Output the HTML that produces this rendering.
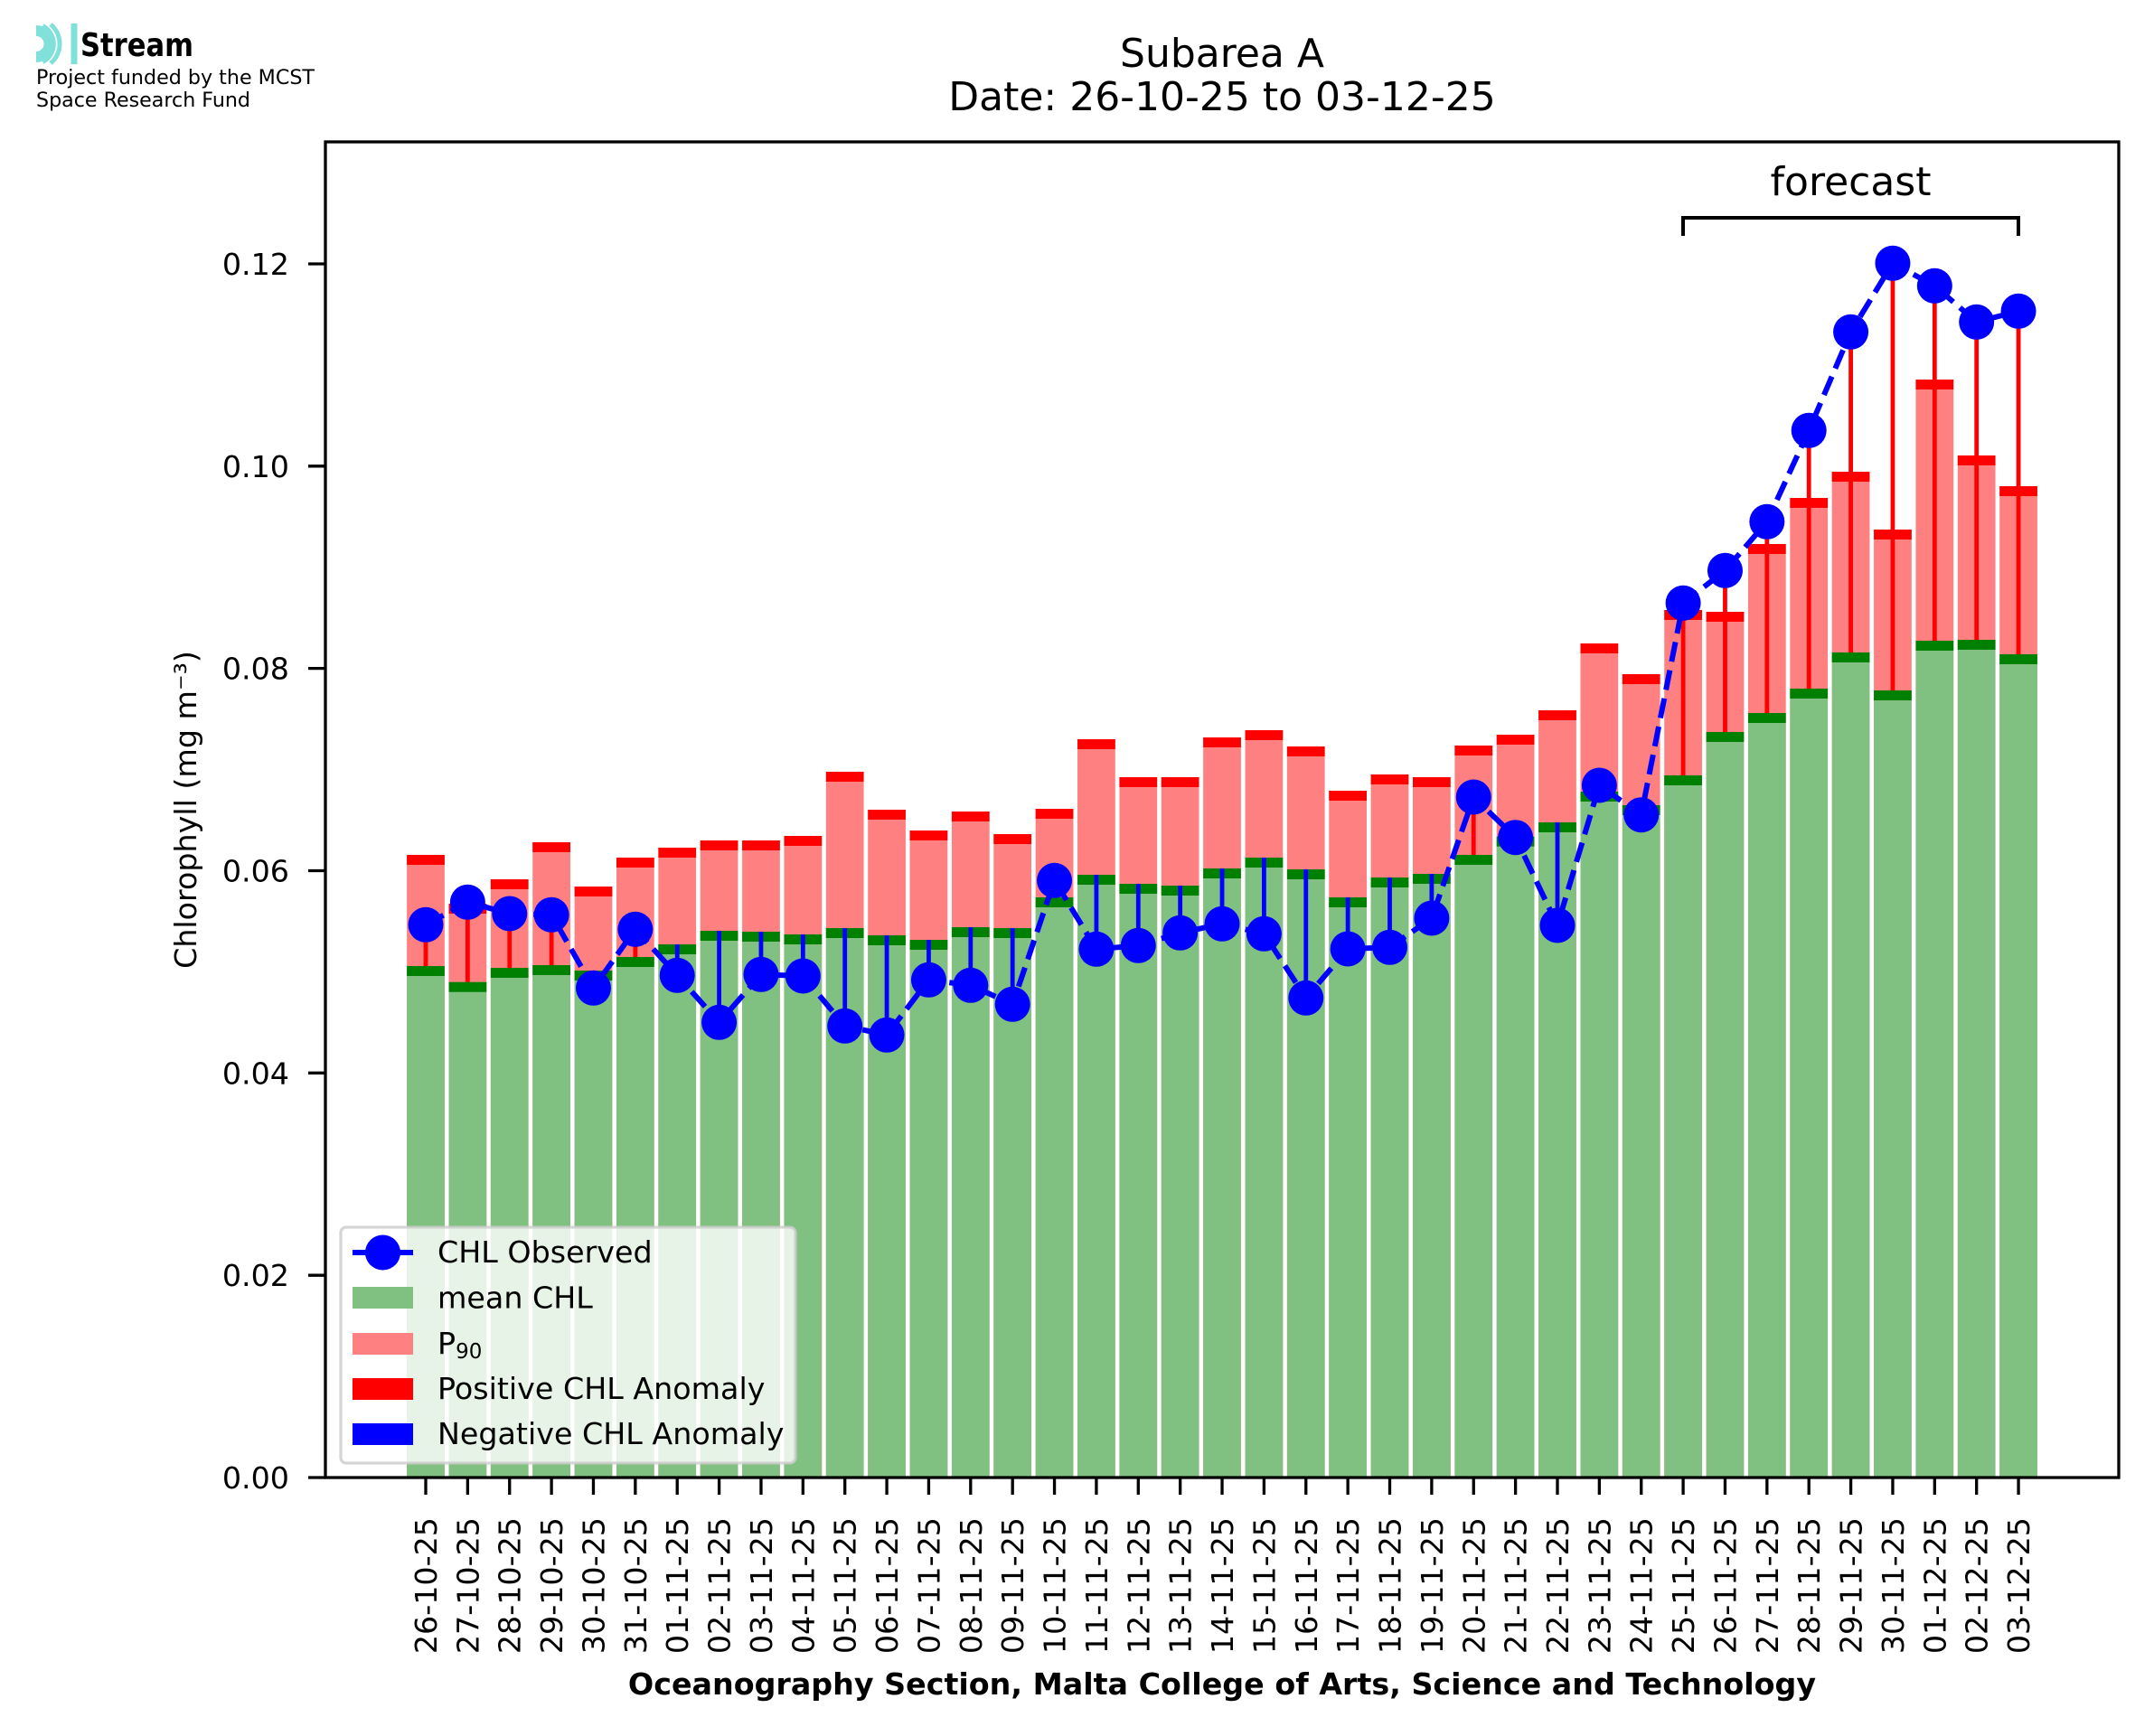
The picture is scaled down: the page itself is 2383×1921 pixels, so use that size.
<!DOCTYPE html>
<html><head><meta charset="utf-8"><style>
html,body{margin:0;padding:0;background:#fff;width:2383px;height:1921px;overflow:hidden;}
svg{display:block;overflow:hidden;font-family:"DejaVu Sans","Liberation Sans",sans-serif;}
</style></head><body>
<svg width="2383" height="1921" viewBox="0 0 2383 1921" xmlns="http://www.w3.org/2000/svg">
<rect width="2383" height="1921" fill="#fff"/>

<!-- logo -->
<g fill="none" stroke="#80e0da">
<path d="M40,34 A14.5,14.5 0 0 1 40,63" stroke-width="12"/>
<path d="M47,29 A22,22 0 0 1 47,68" stroke-width="6"/>
<path d="M56,27 A28,28 0 0 1 56,70" stroke-width="5"/>
<path d="M82,26 V71" stroke-width="7"/>
</g>
<path d="M40,44 L48,48.5 L40,53 Z" fill="#fff"/>
<text x="89" y="62" font-size="36" font-weight="bold" textLength="125" lengthAdjust="spacingAndGlyphs">Stream</text>
<text x="40" y="93" font-size="22" textLength="308" lengthAdjust="spacingAndGlyphs">Project funded by the MCST</text>
<text x="40" y="118" font-size="22" textLength="237" lengthAdjust="spacingAndGlyphs">Space Research Fund</text>

<!-- title -->
<text x="1352" y="74" font-size="44" text-anchor="middle">Subarea A</text>
<text x="1352" y="122" font-size="44" text-anchor="middle">Date: 26-10-25 to 03-12-25</text>

<!-- bars -->
<g>
<g transform="translate(471)"><rect x="-20.87" width="41.73" y="946" height="689" fill="#ff8080"/><rect x="-20.87" width="41.73" y="1069" height="566" fill="#80c080"/><rect x="-20.87" width="41.73" y="1069" height="11" fill="#008000"/><rect x="-20.87" width="41.73" y="946" height="11" fill="#ff0000"/></g>
<g transform="translate(517.37)"><rect x="-20.87" width="41.73" y="1000" height="635" fill="#ff8080"/><rect x="-20.87" width="41.73" y="1086.7" height="548.3" fill="#80c080"/><rect x="-20.87" width="41.73" y="1086.7" height="11" fill="#008000"/><rect x="-20.87" width="41.73" y="1000" height="11" fill="#ff0000"/></g>
<g transform="translate(563.74)"><rect x="-20.87" width="41.73" y="973" height="662" fill="#ff8080"/><rect x="-20.87" width="41.73" y="1071" height="564" fill="#80c080"/><rect x="-20.87" width="41.73" y="1071" height="11" fill="#008000"/><rect x="-20.87" width="41.73" y="973" height="11" fill="#ff0000"/></g>
<g transform="translate(610.11)"><rect x="-20.87" width="41.73" y="932" height="703" fill="#ff8080"/><rect x="-20.87" width="41.73" y="1068" height="567" fill="#80c080"/><rect x="-20.87" width="41.73" y="1068" height="11" fill="#008000"/><rect x="-20.87" width="41.73" y="932" height="11" fill="#ff0000"/></g>
<g transform="translate(656.48)"><rect x="-20.87" width="41.73" y="981" height="654" fill="#ff8080"/><rect x="-20.87" width="41.73" y="1074" height="561" fill="#80c080"/><rect x="-20.87" width="41.73" y="1074" height="11" fill="#008000"/><rect x="-20.87" width="41.73" y="981" height="11" fill="#ff0000"/></g>
<g transform="translate(702.85)"><rect x="-20.87" width="41.73" y="949" height="686" fill="#ff8080"/><rect x="-20.87" width="41.73" y="1059" height="576" fill="#80c080"/><rect x="-20.87" width="41.73" y="1059" height="11" fill="#008000"/><rect x="-20.87" width="41.73" y="949" height="11" fill="#ff0000"/></g>
<g transform="translate(749.22)"><rect x="-20.87" width="41.73" y="938" height="697" fill="#ff8080"/><rect x="-20.87" width="41.73" y="1045" height="590" fill="#80c080"/><rect x="-20.87" width="41.73" y="1045" height="11" fill="#008000"/><rect x="-20.87" width="41.73" y="938" height="11" fill="#ff0000"/></g>
<g transform="translate(795.59)"><rect x="-20.87" width="41.73" y="930" height="705" fill="#ff8080"/><rect x="-20.87" width="41.73" y="1030" height="605" fill="#80c080"/><rect x="-20.87" width="41.73" y="1030" height="11" fill="#008000"/><rect x="-20.87" width="41.73" y="930" height="11" fill="#ff0000"/></g>
<g transform="translate(841.96)"><rect x="-20.87" width="41.73" y="930" height="705" fill="#ff8080"/><rect x="-20.87" width="41.73" y="1031" height="604" fill="#80c080"/><rect x="-20.87" width="41.73" y="1031" height="11" fill="#008000"/><rect x="-20.87" width="41.73" y="930" height="11" fill="#ff0000"/></g>
<g transform="translate(888.33)"><rect x="-20.87" width="41.73" y="925" height="710" fill="#ff8080"/><rect x="-20.87" width="41.73" y="1034" height="601" fill="#80c080"/><rect x="-20.87" width="41.73" y="1034" height="11" fill="#008000"/><rect x="-20.87" width="41.73" y="925" height="11" fill="#ff0000"/></g>
<g transform="translate(934.7)"><rect x="-20.87" width="41.73" y="854" height="781" fill="#ff8080"/><rect x="-20.87" width="41.73" y="1027" height="608" fill="#80c080"/><rect x="-20.87" width="41.73" y="1027" height="11" fill="#008000"/><rect x="-20.87" width="41.73" y="854" height="11" fill="#ff0000"/></g>
<g transform="translate(981.07)"><rect x="-20.87" width="41.73" y="896" height="739" fill="#ff8080"/><rect x="-20.87" width="41.73" y="1035" height="600" fill="#80c080"/><rect x="-20.87" width="41.73" y="1035" height="11" fill="#008000"/><rect x="-20.87" width="41.73" y="896" height="11" fill="#ff0000"/></g>
<g transform="translate(1027.44)"><rect x="-20.87" width="41.73" y="919" height="716" fill="#ff8080"/><rect x="-20.87" width="41.73" y="1040" height="595" fill="#80c080"/><rect x="-20.87" width="41.73" y="1040" height="11" fill="#008000"/><rect x="-20.87" width="41.73" y="919" height="11" fill="#ff0000"/></g>
<g transform="translate(1073.81)"><rect x="-20.87" width="41.73" y="898" height="737" fill="#ff8080"/><rect x="-20.87" width="41.73" y="1026" height="609" fill="#80c080"/><rect x="-20.87" width="41.73" y="1026" height="11" fill="#008000"/><rect x="-20.87" width="41.73" y="898" height="11" fill="#ff0000"/></g>
<g transform="translate(1120.18)"><rect x="-20.87" width="41.73" y="923" height="712" fill="#ff8080"/><rect x="-20.87" width="41.73" y="1027" height="608" fill="#80c080"/><rect x="-20.87" width="41.73" y="1027" height="11" fill="#008000"/><rect x="-20.87" width="41.73" y="923" height="11" fill="#ff0000"/></g>
<g transform="translate(1166.55)"><rect x="-20.87" width="41.73" y="895" height="740" fill="#ff8080"/><rect x="-20.87" width="41.73" y="993" height="642" fill="#80c080"/><rect x="-20.87" width="41.73" y="993" height="11" fill="#008000"/><rect x="-20.87" width="41.73" y="895" height="11" fill="#ff0000"/></g>
<g transform="translate(1212.92)"><rect x="-20.87" width="41.73" y="818" height="817" fill="#ff8080"/><rect x="-20.87" width="41.73" y="968" height="667" fill="#80c080"/><rect x="-20.87" width="41.73" y="968" height="11" fill="#008000"/><rect x="-20.87" width="41.73" y="818" height="11" fill="#ff0000"/></g>
<g transform="translate(1259.29)"><rect x="-20.87" width="41.73" y="860" height="775" fill="#ff8080"/><rect x="-20.87" width="41.73" y="978" height="657" fill="#80c080"/><rect x="-20.87" width="41.73" y="978" height="11" fill="#008000"/><rect x="-20.87" width="41.73" y="860" height="11" fill="#ff0000"/></g>
<g transform="translate(1305.66)"><rect x="-20.87" width="41.73" y="860" height="775" fill="#ff8080"/><rect x="-20.87" width="41.73" y="980" height="655" fill="#80c080"/><rect x="-20.87" width="41.73" y="980" height="11" fill="#008000"/><rect x="-20.87" width="41.73" y="860" height="11" fill="#ff0000"/></g>
<g transform="translate(1352.03)"><rect x="-20.87" width="41.73" y="816" height="819" fill="#ff8080"/><rect x="-20.87" width="41.73" y="961" height="674" fill="#80c080"/><rect x="-20.87" width="41.73" y="961" height="11" fill="#008000"/><rect x="-20.87" width="41.73" y="816" height="11" fill="#ff0000"/></g>
<g transform="translate(1398.4)"><rect x="-20.87" width="41.73" y="808" height="827" fill="#ff8080"/><rect x="-20.87" width="41.73" y="949" height="686" fill="#80c080"/><rect x="-20.87" width="41.73" y="949" height="11" fill="#008000"/><rect x="-20.87" width="41.73" y="808" height="11" fill="#ff0000"/></g>
<g transform="translate(1444.77)"><rect x="-20.87" width="41.73" y="826" height="809" fill="#ff8080"/><rect x="-20.87" width="41.73" y="962" height="673" fill="#80c080"/><rect x="-20.87" width="41.73" y="962" height="11" fill="#008000"/><rect x="-20.87" width="41.73" y="826" height="11" fill="#ff0000"/></g>
<g transform="translate(1491.14)"><rect x="-20.87" width="41.73" y="875" height="760" fill="#ff8080"/><rect x="-20.87" width="41.73" y="993" height="642" fill="#80c080"/><rect x="-20.87" width="41.73" y="993" height="11" fill="#008000"/><rect x="-20.87" width="41.73" y="875" height="11" fill="#ff0000"/></g>
<g transform="translate(1537.51)"><rect x="-20.87" width="41.73" y="857" height="778" fill="#ff8080"/><rect x="-20.87" width="41.73" y="971" height="664" fill="#80c080"/><rect x="-20.87" width="41.73" y="971" height="11" fill="#008000"/><rect x="-20.87" width="41.73" y="857" height="11" fill="#ff0000"/></g>
<g transform="translate(1583.88)"><rect x="-20.87" width="41.73" y="860" height="775" fill="#ff8080"/><rect x="-20.87" width="41.73" y="967" height="668" fill="#80c080"/><rect x="-20.87" width="41.73" y="967" height="11" fill="#008000"/><rect x="-20.87" width="41.73" y="860" height="11" fill="#ff0000"/></g>
<g transform="translate(1630.25)"><rect x="-20.87" width="41.73" y="825" height="810" fill="#ff8080"/><rect x="-20.87" width="41.73" y="946" height="689" fill="#80c080"/><rect x="-20.87" width="41.73" y="946" height="11" fill="#008000"/><rect x="-20.87" width="41.73" y="825" height="11" fill="#ff0000"/></g>
<g transform="translate(1676.62)"><rect x="-20.87" width="41.73" y="813" height="822" fill="#ff8080"/><rect x="-20.87" width="41.73" y="925.7" height="709.3" fill="#80c080"/><rect x="-20.87" width="41.73" y="925.7" height="11" fill="#008000"/><rect x="-20.87" width="41.73" y="813" height="11" fill="#ff0000"/></g>
<g transform="translate(1722.99)"><rect x="-20.87" width="41.73" y="786" height="849" fill="#ff8080"/><rect x="-20.87" width="41.73" y="910" height="725" fill="#80c080"/><rect x="-20.87" width="41.73" y="910" height="11" fill="#008000"/><rect x="-20.87" width="41.73" y="786" height="11" fill="#ff0000"/></g>
<g transform="translate(1769.36)"><rect x="-20.87" width="41.73" y="712" height="923" fill="#ff8080"/><rect x="-20.87" width="41.73" y="876" height="759" fill="#80c080"/><rect x="-20.87" width="41.73" y="876" height="11" fill="#008000"/><rect x="-20.87" width="41.73" y="712" height="11" fill="#ff0000"/></g>
<g transform="translate(1815.73)"><rect x="-20.87" width="41.73" y="746" height="889" fill="#ff8080"/><rect x="-20.87" width="41.73" y="891" height="744" fill="#80c080"/><rect x="-20.87" width="41.73" y="891" height="11" fill="#008000"/><rect x="-20.87" width="41.73" y="746" height="11" fill="#ff0000"/></g>
<g transform="translate(1862.1)"><rect x="-20.87" width="41.73" y="675" height="960" fill="#ff8080"/><rect x="-20.87" width="41.73" y="858" height="777" fill="#80c080"/><rect x="-20.87" width="41.73" y="858" height="11" fill="#008000"/><rect x="-20.87" width="41.73" y="675" height="11" fill="#ff0000"/></g>
<g transform="translate(1908.47)"><rect x="-20.87" width="41.73" y="677" height="958" fill="#ff8080"/><rect x="-20.87" width="41.73" y="810" height="825" fill="#80c080"/><rect x="-20.87" width="41.73" y="810" height="11" fill="#008000"/><rect x="-20.87" width="41.73" y="677" height="11" fill="#ff0000"/></g>
<g transform="translate(1954.84)"><rect x="-20.87" width="41.73" y="602" height="1033" fill="#ff8080"/><rect x="-20.87" width="41.73" y="789" height="846" fill="#80c080"/><rect x="-20.87" width="41.73" y="789" height="11" fill="#008000"/><rect x="-20.87" width="41.73" y="602" height="11" fill="#ff0000"/></g>
<g transform="translate(2001.21)"><rect x="-20.87" width="41.73" y="551" height="1084" fill="#ff8080"/><rect x="-20.87" width="41.73" y="762" height="873" fill="#80c080"/><rect x="-20.87" width="41.73" y="762" height="11" fill="#008000"/><rect x="-20.87" width="41.73" y="551" height="11" fill="#ff0000"/></g>
<g transform="translate(2047.58)"><rect x="-20.87" width="41.73" y="522" height="1113" fill="#ff8080"/><rect x="-20.87" width="41.73" y="722" height="913" fill="#80c080"/><rect x="-20.87" width="41.73" y="722" height="11" fill="#008000"/><rect x="-20.87" width="41.73" y="522" height="11" fill="#ff0000"/></g>
<g transform="translate(2093.95)"><rect x="-20.87" width="41.73" y="586" height="1049" fill="#ff8080"/><rect x="-20.87" width="41.73" y="764" height="871" fill="#80c080"/><rect x="-20.87" width="41.73" y="764" height="11" fill="#008000"/><rect x="-20.87" width="41.73" y="586" height="11" fill="#ff0000"/></g>
<g transform="translate(2140.32)"><rect x="-20.87" width="41.73" y="420" height="1215" fill="#ff8080"/><rect x="-20.87" width="41.73" y="709" height="926" fill="#80c080"/><rect x="-20.87" width="41.73" y="709" height="11" fill="#008000"/><rect x="-20.87" width="41.73" y="420" height="11" fill="#ff0000"/></g>
<g transform="translate(2186.69)"><rect x="-20.87" width="41.73" y="504" height="1131" fill="#ff8080"/><rect x="-20.87" width="41.73" y="708" height="927" fill="#80c080"/><rect x="-20.87" width="41.73" y="708" height="11" fill="#008000"/><rect x="-20.87" width="41.73" y="504" height="11" fill="#ff0000"/></g>
<g transform="translate(2233.06)"><rect x="-20.87" width="41.73" y="538" height="1097" fill="#ff8080"/><rect x="-20.87" width="41.73" y="724" height="911" fill="#80c080"/><rect x="-20.87" width="41.73" y="724" height="11" fill="#008000"/><rect x="-20.87" width="41.73" y="538" height="11" fill="#ff0000"/></g>
</g>

<!-- anomaly lines -->
<g stroke-width="4.8" fill="none">
<path stroke="#ff0000" d="M471,1023.3V1069 M517.37,998.3V1086.7 M563.74,1011V1071 M610.11,1012.3V1068 M702.85,1028.3V1059 M1166.55,974.3V993 M1630.25,882V946 M1769.36,869V876 M1862.1,667.3V858 M1908.47,631.3V810 M1954.84,577.3V789 M2001.21,476.3V762 M2047.58,367.3V722 M2093.95,291.3V764 M2140.32,316.3V709 M2186.69,356.3V708 M2233.06,344.3V724"/>
<path stroke="#0000ff" d="M656.48,1074V1093.3 M749.22,1045V1079.3 M795.59,1030V1131.3 M841.96,1031V1078.3 M888.33,1034V1080 M934.7,1027V1135.3 M981.07,1035V1145.3 M1027.44,1040V1084.3 M1073.81,1026V1090.3 M1120.18,1027V1111.3 M1212.92,968V1050.3 M1259.29,978V1046.3 M1305.66,980V1032.3 M1352.03,961V1022.3 M1398.4,949V1033.3 M1444.77,962V1104.3 M1491.14,993V1050 M1537.51,971V1048.3 M1583.88,967V1016 M1676.62,925.7V926.7 M1722.99,910V1024 M1815.73,891V901.7"/>
</g>

<!-- observed line -->
<polyline fill="none" stroke="#0000ff" stroke-width="6" stroke-dasharray="22.2 9.6" points="471,1023.3 517.37,998.3 563.74,1011 610.11,1012.3 656.48,1093.3 702.85,1028.3 749.22,1079.3 795.59,1131.3 841.96,1078.3 888.33,1080 934.7,1135.3 981.07,1145.3 1027.44,1084.3 1073.81,1090.3 1120.18,1111.3 1166.55,974.3 1212.92,1050.3 1259.29,1046.3 1305.66,1032.3 1352.03,1022.3 1398.4,1033.3 1444.77,1104.3 1491.14,1050 1537.51,1048.3 1583.88,1016 1630.25,882 1676.62,926.7 1722.99,1024 1769.36,869 1815.73,901.7 1862.1,667.3 1908.47,631.3 1954.84,577.3 2001.21,476.3 2047.58,367.3 2093.95,291.3 2140.32,316.3 2186.69,356.3 2233.06,344.3"/>
<g fill="#0000ff">
<circle cx="471" cy="1023.3" r="19.5"/><circle cx="517.37" cy="998.3" r="19.5"/><circle cx="563.74" cy="1011" r="19.5"/><circle cx="610.11" cy="1012.3" r="19.5"/><circle cx="656.48" cy="1093.3" r="19.5"/><circle cx="702.85" cy="1028.3" r="19.5"/><circle cx="749.22" cy="1079.3" r="19.5"/><circle cx="795.59" cy="1131.3" r="19.5"/><circle cx="841.96" cy="1078.3" r="19.5"/><circle cx="888.33" cy="1080" r="19.5"/><circle cx="934.7" cy="1135.3" r="19.5"/><circle cx="981.07" cy="1145.3" r="19.5"/><circle cx="1027.44" cy="1084.3" r="19.5"/><circle cx="1073.81" cy="1090.3" r="19.5"/><circle cx="1120.18" cy="1111.3" r="19.5"/><circle cx="1166.55" cy="974.3" r="19.5"/><circle cx="1212.92" cy="1050.3" r="19.5"/><circle cx="1259.29" cy="1046.3" r="19.5"/><circle cx="1305.66" cy="1032.3" r="19.5"/><circle cx="1352.03" cy="1022.3" r="19.5"/><circle cx="1398.4" cy="1033.3" r="19.5"/><circle cx="1444.77" cy="1104.3" r="19.5"/><circle cx="1491.14" cy="1050" r="19.5"/><circle cx="1537.51" cy="1048.3" r="19.5"/><circle cx="1583.88" cy="1016" r="19.5"/><circle cx="1630.25" cy="882" r="19.5"/><circle cx="1676.62" cy="926.7" r="19.5"/><circle cx="1722.99" cy="1024" r="19.5"/><circle cx="1769.36" cy="869" r="19.5"/><circle cx="1815.73" cy="901.7" r="19.5"/><circle cx="1862.1" cy="667.3" r="19.5"/><circle cx="1908.47" cy="631.3" r="19.5"/><circle cx="1954.84" cy="577.3" r="19.5"/><circle cx="2001.21" cy="476.3" r="19.5"/><circle cx="2047.58" cy="367.3" r="19.5"/><circle cx="2093.95" cy="291.3" r="19.5"/><circle cx="2140.32" cy="316.3" r="19.5"/><circle cx="2186.69" cy="356.3" r="19.5"/><circle cx="2233.06" cy="344.3" r="19.5"/>
</g>

<!-- forecast bracket -->
<path d="M1862,261 V241 H2233 V261" fill="none" stroke="#000" stroke-width="4"/>
<text x="2047.5" y="216" font-size="44" text-anchor="middle">forecast</text>

<!-- spines -->
<rect x="360" y="157" width="1984" height="1478" fill="none" stroke="#000" stroke-width="3.3"/>

<!-- ticks -->
<path stroke="#000" stroke-width="3.3" fill="none" d="M341,1635H360 M341,1411.2H360 M341,1187.3H360 M341,963.5H360 M341,739.6H360 M341,515.8H360 M341,292H360
M471,1635V1654 M517.37,1635V1654 M563.74,1635V1654 M610.11,1635V1654 M656.48,1635V1654 M702.85,1635V1654 M749.22,1635V1654 M795.59,1635V1654 M841.96,1635V1654 M888.33,1635V1654 M934.7,1635V1654 M981.07,1635V1654 M1027.44,1635V1654 M1073.81,1635V1654 M1120.18,1635V1654 M1166.55,1635V1654 M1212.92,1635V1654 M1259.29,1635V1654 M1305.66,1635V1654 M1352.03,1635V1654 M1398.4,1635V1654 M1444.77,1635V1654 M1491.14,1635V1654 M1537.51,1635V1654 M1583.88,1635V1654 M1630.25,1635V1654 M1676.62,1635V1654 M1722.99,1635V1654 M1769.36,1635V1654 M1815.73,1635V1654 M1862.1,1635V1654 M1908.47,1635V1654 M1954.84,1635V1654 M2001.21,1635V1654 M2047.58,1635V1654 M2093.95,1635V1654 M2140.32,1635V1654 M2186.69,1635V1654 M2233.06,1635V1654"/>

<!-- y tick labels -->
<g font-size="33.3" text-anchor="end">
<text x="320" y="1647">0.00</text>
<text x="320" y="1423.2">0.02</text>
<text x="320" y="1199.3">0.04</text>
<text x="320" y="975.5">0.06</text>
<text x="320" y="751.6">0.08</text>
<text x="320" y="527.8">0.10</text>
<text x="320" y="304">0.12</text>
</g>
<text transform="translate(217,896) rotate(-90)" font-size="33.3" text-anchor="middle">Chlorophyll (mg m⁻³)</text>

<!-- x tick labels -->
<g font-size="33.3" text-anchor="end">
<text transform="translate(483,1679) rotate(-90)">26-10-25</text>
<text transform="translate(529.37,1679) rotate(-90)">27-10-25</text>
<text transform="translate(575.74,1679) rotate(-90)">28-10-25</text>
<text transform="translate(622.11,1679) rotate(-90)">29-10-25</text>
<text transform="translate(668.48,1679) rotate(-90)">30-10-25</text>
<text transform="translate(714.85,1679) rotate(-90)">31-10-25</text>
<text transform="translate(761.22,1679) rotate(-90)">01-11-25</text>
<text transform="translate(807.59,1679) rotate(-90)">02-11-25</text>
<text transform="translate(853.96,1679) rotate(-90)">03-11-25</text>
<text transform="translate(900.33,1679) rotate(-90)">04-11-25</text>
<text transform="translate(946.7,1679) rotate(-90)">05-11-25</text>
<text transform="translate(993.07,1679) rotate(-90)">06-11-25</text>
<text transform="translate(1039.44,1679) rotate(-90)">07-11-25</text>
<text transform="translate(1085.81,1679) rotate(-90)">08-11-25</text>
<text transform="translate(1132.18,1679) rotate(-90)">09-11-25</text>
<text transform="translate(1178.55,1679) rotate(-90)">10-11-25</text>
<text transform="translate(1224.92,1679) rotate(-90)">11-11-25</text>
<text transform="translate(1271.29,1679) rotate(-90)">12-11-25</text>
<text transform="translate(1317.66,1679) rotate(-90)">13-11-25</text>
<text transform="translate(1364.03,1679) rotate(-90)">14-11-25</text>
<text transform="translate(1410.4,1679) rotate(-90)">15-11-25</text>
<text transform="translate(1456.77,1679) rotate(-90)">16-11-25</text>
<text transform="translate(1503.14,1679) rotate(-90)">17-11-25</text>
<text transform="translate(1549.51,1679) rotate(-90)">18-11-25</text>
<text transform="translate(1595.88,1679) rotate(-90)">19-11-25</text>
<text transform="translate(1642.25,1679) rotate(-90)">20-11-25</text>
<text transform="translate(1688.62,1679) rotate(-90)">21-11-25</text>
<text transform="translate(1734.99,1679) rotate(-90)">22-11-25</text>
<text transform="translate(1781.36,1679) rotate(-90)">23-11-25</text>
<text transform="translate(1827.73,1679) rotate(-90)">24-11-25</text>
<text transform="translate(1874.1,1679) rotate(-90)">25-11-25</text>
<text transform="translate(1920.47,1679) rotate(-90)">26-11-25</text>
<text transform="translate(1966.84,1679) rotate(-90)">27-11-25</text>
<text transform="translate(2013.21,1679) rotate(-90)">28-11-25</text>
<text transform="translate(2059.58,1679) rotate(-90)">29-11-25</text>
<text transform="translate(2105.95,1679) rotate(-90)">30-11-25</text>
<text transform="translate(2152.32,1679) rotate(-90)">01-12-25</text>
<text transform="translate(2198.69,1679) rotate(-90)">02-12-25</text>
<text transform="translate(2245.06,1679) rotate(-90)">03-12-25</text>
</g>
<text x="1352" y="1875" font-size="33.3" font-weight="bold" text-anchor="middle">Oceanography Section, Malta College of Arts, Science and Technology</text>

<!-- legend -->
<rect x="377" y="1358" width="503" height="261" rx="6" ry="6" fill="rgba(255,255,255,0.8)" stroke="rgba(204,204,204,0.8)" stroke-width="3.3"/>
<path d="M390,1386H457" stroke="#0000ff" stroke-width="6"/>
<circle cx="423.5" cy="1386" r="19.5" fill="#0000ff"/>
<rect x="390" y="1424" width="67" height="24" fill="#80c080"/>
<rect x="390" y="1475" width="67" height="24" fill="#ff8080"/>
<rect x="390" y="1525" width="67" height="24" fill="#ff0000"/>
<rect x="390" y="1575" width="67" height="24" fill="#0000ff"/>
<g font-size="33.3">
<text x="484" y="1397">CHL Observed</text>
<text x="484" y="1447.5">mean CHL</text>
<text x="484" y="1498">P<tspan font-size="23" dy="5">90</tspan></text>
<text x="484" y="1548">Positive CHL Anomaly</text>
<text x="484" y="1598">Negative CHL Anomaly</text>
</g>
</svg>
</body></html>
